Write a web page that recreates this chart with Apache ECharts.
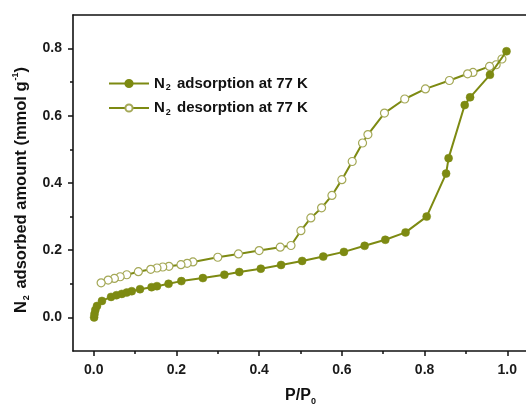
<!DOCTYPE html>
<html>
<head>
<meta charset="utf-8">
<script src="https://cdn.jsdelivr.net/npm/echarts@6/dist/echarts.min.js"></script>
<style>
  html, body { margin: 0; padding: 0; background: #fff; overflow: hidden; }
  #chart { width: 526px; height: 410px; }
</style>
</head>
<body>
<div id="chart"></div>
<script>
// N2 isotherm at 77 K: relative pressure P/P0 vs adsorbed amount (mmol/g)
const adsorptionP = [0.001, 0.002, 0.004, 0.008, 0.020, 0.042, 0.055, 0.068, 0.080, 0.092, 0.112, 0.140, 0.153, 0.181, 0.212, 0.264, 0.316, 0.352, 0.404, 0.453, 0.504, 0.555, 0.605, 0.655, 0.705, 0.754, 0.805, 0.852, 0.858, 0.897, 0.910, 0.958, 0.998];
const adsorptionQ = [0.000, 0.010, 0.022, 0.034, 0.049, 0.061, 0.066, 0.070, 0.074, 0.078, 0.084, 0.090, 0.093, 0.100, 0.108, 0.117, 0.127, 0.135, 0.145, 0.156, 0.168, 0.181, 0.195, 0.213, 0.231, 0.253, 0.300, 0.428, 0.474, 0.632, 0.655, 0.722, 0.792];

const desorptionP = [0.987, 0.973, 0.957, 0.917, 0.904, 0.860, 0.802, 0.752, 0.703, 0.663, 0.650, 0.625, 0.600, 0.576, 0.551, 0.525, 0.501, 0.477, 0.451, 0.400, 0.350, 0.300, 0.240, 0.226, 0.211, 0.182, 0.167, 0.153, 0.138, 0.108, 0.080, 0.064, 0.050, 0.035, 0.018];
const desorptionQ = [0.769, 0.752, 0.747, 0.729, 0.725, 0.705, 0.680, 0.650, 0.608, 0.544, 0.519, 0.464, 0.410, 0.363, 0.326, 0.296, 0.258, 0.214, 0.209, 0.199, 0.189, 0.179, 0.165, 0.161, 0.157, 0.152, 0.150, 0.147, 0.143, 0.136, 0.127, 0.121, 0.116, 0.111, 0.103];

const xMajorTicks = [0.0, 0.2, 0.4, 0.6, 0.8, 1.0];
const xMinorTicks = [0.1, 0.3, 0.5, 0.7, 0.9];
const yMajorTicks = [0.0, 0.2, 0.4, 0.6, 0.8];
const yMinorTicks = [0.1, 0.3, 0.5, 0.7];

const seriesNames = ['N2 adsorption at 77 K', 'N2 desorption at 77 K'];

const olive = '#7d8a12';
const openEdge = '#a4a856';
const font = 'Liberation Sans, Arial, sans-serif';

function zip(a, b) { return a.map((v, i) => [v, b[i]]); }

const tickLabel = { fontFamily: font, fontWeight: 'bold', fontSize: 14, color: '#1a1a1a' };
const axisLine = { show: true, onZero: false, lineStyle: { color: '#111', width: 1.6 } };
const noLine = { show: false, onZero: false };

const chart = echarts.init(document.getElementById('chart'), null, { renderer: 'canvas' });
chart.setOption({
  animation: false,
  backgroundColor: '#fff',
  grid: { left: 73, top: 15, width: 455, height: 336, containLabel: false, outerBoundsMode: 'none' },
  legend: {
    orient: 'vertical',
    left: 103,
    top: 71,
    itemWidth: 40,
    itemHeight: 9,
    itemGap: 8,
    data: seriesNames,
    formatter: function (n) {
      return '{b|N}{s|2}{b|' + n.slice(2) + '}';
    },
    textStyle: {
      rich: {
        b: { fontFamily: font, fontWeight: 'bold', fontSize: 15, color: '#111' },
        s: { fontFamily: font, fontWeight: 'bold', fontSize: 9, color: '#111', verticalAlign: 'bottom', padding: [9, 2, 0, 1] }
      }
    }
  },
  xAxis: [
    {
      type: 'value', min: -0.05, max: 1.05, position: 'bottom',
      name: '{b|P/P}{s|0}',
      nameLocation: 'middle', nameGap: 35,
      nameTextStyle: {
        rich: {
          b: { fontFamily: font, fontWeight: 'bold', fontSize: 16, color: '#111' },
          s: { fontFamily: font, fontWeight: 'bold', fontSize: 9, color: '#111', verticalAlign: 'bottom', padding: [11, 0, 0, 0] }
        }
      },
      axisLine: axisLine,
      axisTick: { show: true, inside: false, length: 5, customValues: xMajorTicks, lineStyle: { color: '#111', width: 1.5 } },
      axisLabel: Object.assign({ customValues: xMajorTicks, margin: 12, formatter: v => v.toFixed(1) }, tickLabel),
      splitLine: { show: false }
    },
    {
      type: 'value', min: -0.05, max: 1.05, position: 'bottom',
      axisLine: noLine,
      axisTick: { show: true, inside: false, length: 3, customValues: xMinorTicks, lineStyle: { color: '#111', width: 1.5 } },
      axisLabel: { show: false },
      splitLine: { show: false }
    },
    {
      type: 'value', min: -0.05, max: 1.05, position: 'top',
      axisLine: axisLine, axisTick: { show: false }, axisLabel: { show: false }, splitLine: { show: false }
    }
  ],
  yAxis: [
    {
      type: 'value', min: -0.1, max: 0.9, position: 'left',
      name: '{b|N}{s|2}{b| adsorbed amount (mmol g}{p|-1}{b|)}',
      nameLocation: 'middle', nameGap: 42, nameRotate: 90,
      nameTextStyle: {
        padding: [0, 14, 0, 0],
        rich: {
          b: { fontFamily: font, fontWeight: 'bold', fontSize: 16.5, color: '#111' },
          s: { fontFamily: font, fontWeight: 'bold', fontSize: 9, color: '#111', verticalAlign: 'bottom', padding: [11, 2, 0, 1] },
          p: { fontFamily: font, fontWeight: 'bold', fontSize: 9, color: '#111', verticalAlign: 'top', padding: [0, 0, 9, 1] }
        }
      },
      axisLine: axisLine,
      axisTick: { show: true, inside: false, length: 5, customValues: yMajorTicks, lineStyle: { color: '#111', width: 1.5 } },
      axisLabel: Object.assign({ customValues: yMajorTicks, margin: 11, formatter: v => v.toFixed(1) }, tickLabel),
      splitLine: { show: false }
    },
    {
      type: 'value', min: -0.1, max: 0.9, position: 'left',
      axisLine: noLine,
      axisTick: { show: true, inside: false, length: 3, customValues: yMinorTicks, lineStyle: { color: '#111', width: 1.5 } },
      axisLabel: { show: false },
      splitLine: { show: false }
    }
  ],
  series: [
    {
      name: seriesNames[0], type: 'line', xAxisIndex: 0, yAxisIndex: 0,
      data: zip(adsorptionP, adsorptionQ),
      symbol: 'circle', symbolSize: 8, showAllSymbol: true,
      lineStyle: { color: olive, width: 2 },
      itemStyle: { color: olive, borderColor: olive, borderWidth: 0.5 },
      z: 3
    },
    {
      name: seriesNames[1], type: 'line', xAxisIndex: 0, yAxisIndex: 0,
      data: zip(desorptionP, desorptionQ),
      symbol: 'circle', symbolSize: 8, showAllSymbol: true,
      lineStyle: { color: olive, width: 2 },
      itemStyle: { color: '#ffffff', borderColor: openEdge, borderWidth: 1.2 },
      z: 2
    }
  ]
});
</script>
</body>
</html>
